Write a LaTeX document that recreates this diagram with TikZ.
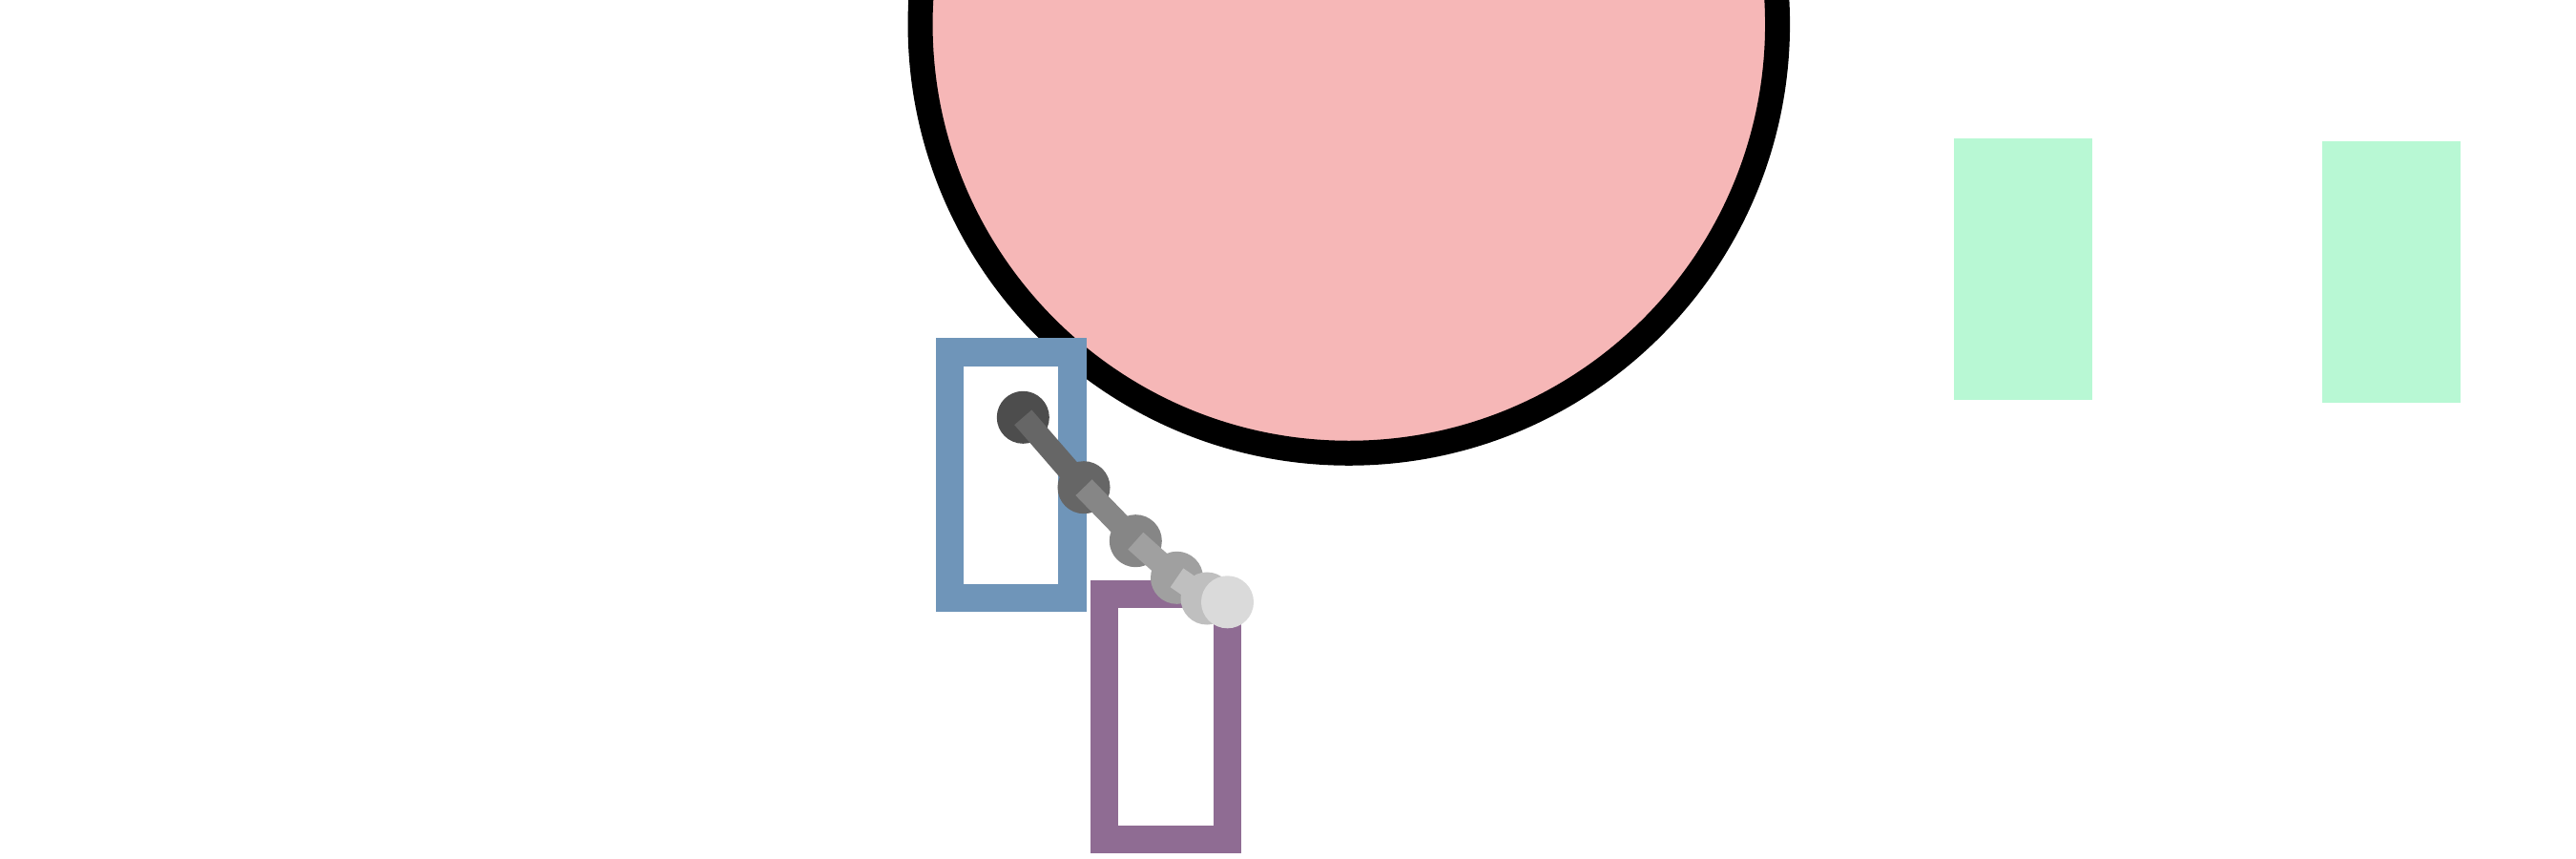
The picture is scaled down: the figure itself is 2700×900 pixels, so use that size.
\documentclass[tikz,border=0pt]{standalone}
\usetikzlibrary{calc}
\definecolor{pinkfill}{HTML}{F6B7B7}
\definecolor{bluebox}{HTML}{6F95B9}
\definecolor{purplebox}{HTML}{8F6C93}
\definecolor{greenbox}{HTML}{B8F8D4}
\definecolor{ga}{HTML}{4D4D4D}
\definecolor{gb}{HTML}{666666}
\definecolor{gc}{HTML}{868686}
\definecolor{gd}{HTML}{A0A0A0}
\definecolor{ge}{HTML}{BFBFBF}
\definecolor{gf}{HTML}{DADADA}
\begin{document}
\begin{tikzpicture}[x=0.01cm,y=-0.01cm,
  bigball/.style={circle,draw=black,fill=pinkfill,line width=0.26cm,inner sep=0pt,minimum size=8.98cm},
  frame/.style={rectangle,draw=#1,line width=0.295cm,inner sep=0pt,minimum width=1.29cm,minimum height=2.57cm},
  greenblock/.style={rectangle,fill=greenbox,inner sep=0pt,minimum width=1.45cm,minimum height=2.737cm},
  dot/.style={circle,fill=#1,inner sep=0pt,minimum size=0.55cm},
  bar/.style={draw=#1,line width=0.24cm,line cap=butt}]
\useasboundingbox (0,0) rectangle (2700,900);
\clip (0,0) rectangle (2700,900);
\node[bigball] (ball) at (1413.8,25.5) {};
\node[greenblock] (g1) at (2120.5,281.8) {};
\node[greenblock] (g2) at (2506.5,284.8) {};
\node[frame=bluebox,minimum width=1.284cm] (blue) at (1059.5,497.8) {};
\node[frame=purplebox] (purple) at (1222,751) {};
\node[dot=ga] (d1) at (1072.3,437.3) {};
\draw[bar=gb] (d1.center) -- (1136,510.7) coordinate (c2);
\node[dot=gb] (d2) at (c2) {};
\draw[bar=gc] (d2.center) -- (1190.3,566.7) coordinate (c3);
\node[dot=gc] (d3) at (c3) {};
\draw[bar=gd] (d3.center) -- (1233.5,605.3) coordinate (c4);
\node[dot=gd] (d4) at (c4) {};
\draw[bar=ge] (d4.center) -- (1265,627) coordinate (c5);
\node[dot=ge] (d5) at (c5) {};
\draw[bar=gf] (d5.center) -- (1286.5,630.8) coordinate (c6);
\node[dot=gf] (d6) at (c6) {};
\end{tikzpicture}
\end{document}
